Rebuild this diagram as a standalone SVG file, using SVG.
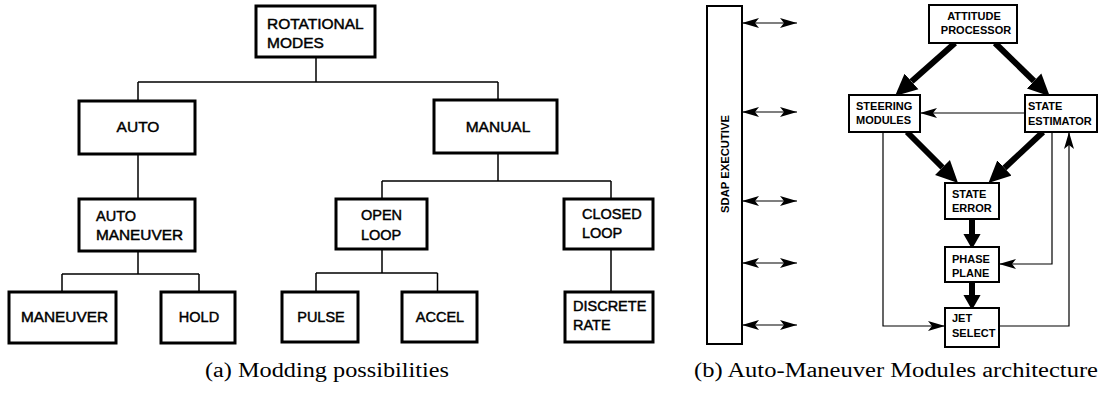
<svg xmlns="http://www.w3.org/2000/svg" width="1106" height="396" viewBox="0 0 1106 396">
<style>
.bx{fill:#fff;stroke:#000;stroke-width:3}
.bx2{fill:#fff;stroke:#000;stroke-width:2}
.ln{fill:none;stroke:#000;stroke-width:1.5}
.thin{fill:none;stroke:#000;stroke-width:1.2}
.thick{fill:none;stroke:#000;stroke-width:6}
.t1{font-family:"Liberation Sans",Arial,sans-serif;font-size:15.5px;fill:#000;stroke:#000;stroke-width:0.45}
.t2{font-family:"Liberation Sans",Arial,sans-serif;font-size:14.5px;fill:#000;stroke:#000;stroke-width:0.45}
.t3{font-family:"Liberation Sans",Arial,sans-serif;font-size:11px;font-weight:bold;fill:#000}
.c{text-anchor:middle}
.cap{font-family:"Liberation Serif","Times New Roman",serif;font-size:20px;fill:#000}
</style>
<defs>
<marker id="hThick" markerUnits="userSpaceOnUse" markerWidth="22" markerHeight="22" viewBox="0 -10 21 20" refX="0" refY="0" orient="auto">
<path d="M0,-10 L21,0 L0,10 z" fill="#000"/>
</marker>
<marker id="hMid" markerUnits="userSpaceOnUse" markerWidth="15" markerHeight="18" viewBox="0 -8 14 16" refX="0" refY="0" orient="auto">
<path d="M0,-8 L14,0 L0,8 z" fill="#000"/>
</marker>
<marker id="hThin" markerUnits="userSpaceOnUse" markerWidth="17" markerHeight="11" viewBox="0 -5 17 10" refX="17" refY="0" orient="auto-start-reverse">
<path d="M0,-5 L17,0 L0,5 L4,0 z" fill="#000"/>
</marker>
</defs>
<rect width="1106" height="396" fill="#fff"/>

<g id="connectors">
<path class="ln" d="M316,57 V82 M138,82 H498 M138,82 V101 M498,82 V100"/>
<path class="ln" d="M138,154 V199"/>
<path class="ln" d="M498,153 V181 M382,181 H611 M382,181 V199 M611,181 V199"/>
<path class="ln" d="M138,251 V274 M62,274 H199 M62,274 V292 M199,274 V292"/>
<path class="ln" d="M382,249 V273 M316,273 H437.5 M316,273 V292 M437.5,273 V292"/>
<path class="ln" d="M611,249 V292"/>
<line class="thin" x1="742" y1="23" x2="797" y2="23" marker-start="url(#hThin)" marker-end="url(#hThin)"/>
<line class="thin" x1="742" y1="112" x2="797" y2="112" marker-start="url(#hThin)" marker-end="url(#hThin)"/>
<line class="thin" x1="742" y1="201" x2="797" y2="201" marker-start="url(#hThin)" marker-end="url(#hThin)"/>
<line class="thin" x1="742" y1="263" x2="797" y2="263" marker-start="url(#hThin)" marker-end="url(#hThin)"/>
<line class="thin" x1="742" y1="325" x2="797" y2="325" marker-start="url(#hThin)" marker-end="url(#hThin)"/>
<line class="thick" x1="955" y1="43" x2="911.5" y2="81.5" marker-end="url(#hThick)"/>
<line class="thick" x1="995" y1="43" x2="1034" y2="81" marker-end="url(#hThick)"/>
<line class="thick" x1="907" y1="132" x2="942.5" y2="167.5" marker-end="url(#hThick)"/>
<line class="thick" x1="1043" y1="132" x2="1004.5" y2="168" marker-end="url(#hThick)"/>
<line class="thick" x1="972" y1="219" x2="972" y2="234" marker-end="url(#hMid)"/>
<line class="thick" x1="972" y1="282" x2="972" y2="295" marker-end="url(#hMid)"/>
<line class="thin" x1="1025" y1="113" x2="920" y2="113" marker-end="url(#hThin)"/>
<polyline class="thin" points="883,132 883,326 945,326" marker-end="url(#hThin)"/>
<polyline class="thin" points="1052,132 1052,264 999,264" marker-end="url(#hThin)"/>
<polyline class="thin" points="999,326 1069,326 1069,132" marker-end="url(#hThin)"/>
</g>

<g id="rotational-modes">
<rect class="bx" x="256" y="6" width="119" height="51"/>
<text class="t1" x="267" y="29">ROTATIONAL</text>
<text class="t1" x="267" y="48">MODES</text>
</g>
<g id="auto">
<rect class="bx" x="79" y="101" width="116" height="53"/>
<text class="t1 c" x="138" y="132">AUTO</text>
</g>
<g id="manual">
<rect class="bx" x="434" y="100" width="123" height="53"/>
<text class="t1 c" x="498" y="132">MANUAL</text>
</g>
<g id="auto-maneuver">
<rect class="bx" x="79" y="199" width="116" height="52"/>
<text class="t2" x="96" y="221">AUTO</text>
<text class="t2" x="96" y="240" textLength="87" lengthAdjust="spacingAndGlyphs">MANEUVER</text>
</g>
<g id="maneuver">
<rect class="bx" x="9" y="292" width="107" height="51"/>
<text class="t2" x="21" y="322" textLength="87" lengthAdjust="spacingAndGlyphs">MANEUVER</text>
</g>
<g id="hold">
<rect class="bx" x="161" y="292" width="74" height="51"/>
<text class="t2 c" x="199" y="322">HOLD</text>
</g>
<g id="open-loop">
<rect class="bx" x="336" y="199" width="91" height="50"/>
<text class="t2" x="361" y="220">OPEN</text>
<text class="t2" x="361" y="240">LOOP</text>
</g>
<g id="pulse">
<rect class="bx" x="282" y="292" width="76" height="50"/>
<text class="t2 c" x="321" y="322">PULSE</text>
</g>
<g id="accel">
<rect class="bx" x="402" y="292" width="75" height="50"/>
<text class="t2 c" x="440" y="322">ACCEL</text>
</g>
<g id="closed-loop">
<rect class="bx" x="564" y="199" width="89" height="50"/>
<text class="t2" x="582" y="219">CLOSED</text>
<text class="t2" x="582" y="238">LOOP</text>
</g>
<g id="discrete-rate">
<rect class="bx" x="565" y="292" width="88" height="50"/>
<text class="t2" x="573" y="311">DISCRETE</text>
<text class="t2" x="573" y="330">RATE</text>
</g>

<g id="sdap-executive">
<rect class="bx2" x="707" y="6" width="35" height="338"/>
<text class="t3 c" transform="translate(729,164) rotate(-90)" x="0" y="0" font-size="12" textLength="98" lengthAdjust="spacingAndGlyphs">SDAP EXECUTIVE</text>
</g>
<g id="attitude-processor">
<rect class="bx2" x="929" y="5" width="88" height="38"/>
<text class="t3 c" x="974" y="20">ATTITUDE</text>
<text class="t3 c" x="976" y="34">PROCESSOR</text>
</g>
<g id="steering-modules">
<rect class="bx2" x="849" y="95" width="71" height="37"/>
<text class="t3" x="856" y="110">STEERING</text>
<text class="t3" x="856" y="124">MODULES</text>
</g>
<g id="state-estimator">
<rect class="bx2" x="1025" y="95" width="72" height="37"/>
<text class="t3" x="1028" y="110">STATE</text>
<text class="t3" x="1028" y="125">ESTIMATOR</text>
</g>
<g id="state-error">
<rect class="bx2" x="945" y="183" width="54" height="36"/>
<text class="t3" x="952" y="198">STATE</text>
<text class="t3" x="952" y="212">ERROR</text>
</g>
<g id="phase-plane">
<rect class="bx2" x="945" y="247" width="54" height="35"/>
<text class="t3" x="952" y="263">PHASE</text>
<text class="t3" x="952" y="277">PLANE</text>
</g>
<g id="jet-select">
<rect class="bx2" x="945" y="308" width="54" height="39"/>
<text class="t3" x="952" y="322">JET</text>
<text class="t3" x="952" y="337">SELECT</text>
</g>

<text class="cap" x="205" y="377" textLength="244" lengthAdjust="spacingAndGlyphs">(a) Modding possibilities</text>
<text class="cap" x="694" y="377" textLength="404" lengthAdjust="spacingAndGlyphs">(b) Auto-Maneuver Modules architecture</text>
</svg>
